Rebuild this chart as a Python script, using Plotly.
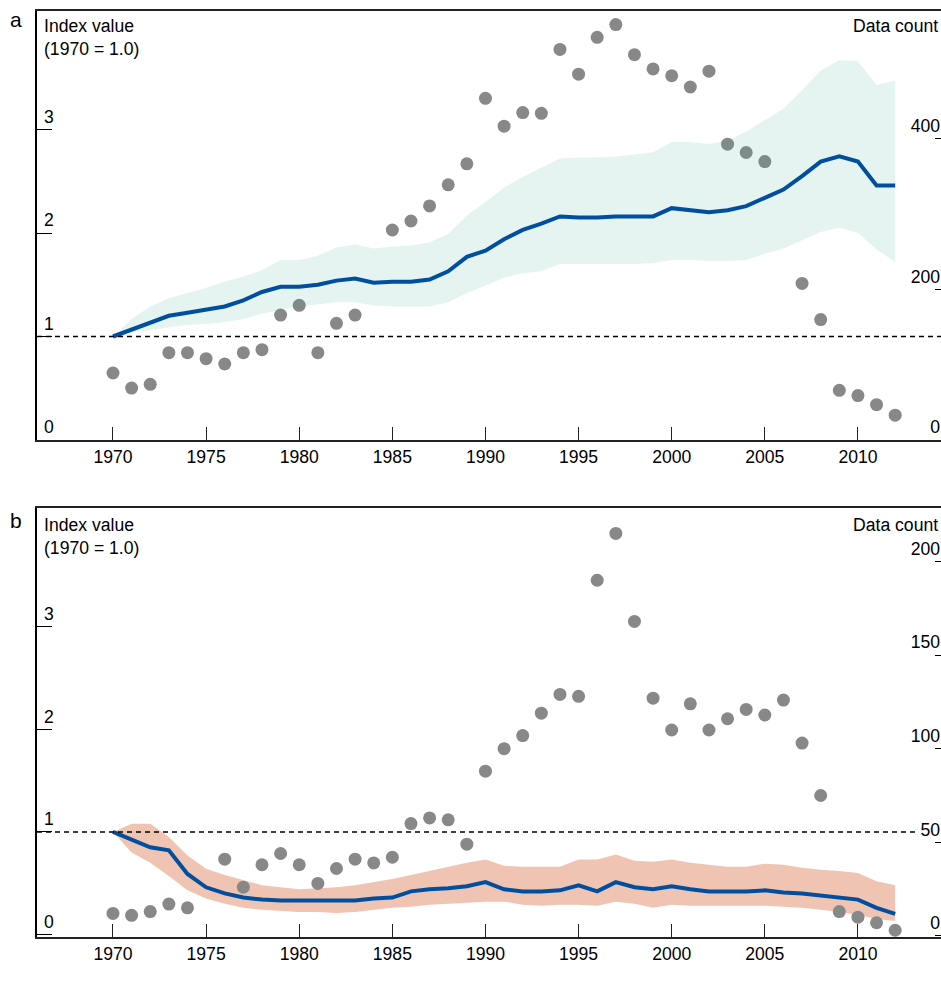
import plotly.graph_objects as go

# ---- data -------------------------------------------------------------
years = list(range(1970, 2013))

# panel a: index with uncertainty band
a_index = [1.00, 1.07, 1.14, 1.20, 1.23, 1.26, 1.29, 1.35, 1.43, 1.48, 1.48, 1.50, 1.54, 1.56,
           1.52, 1.53, 1.53, 1.55, 1.63, 1.77, 1.83, 1.94, 2.03, 2.09, 2.16, 2.15, 2.15, 2.16,
           2.16, 2.16, 2.24, 2.22, 2.20, 2.22, 2.26, 2.34, 2.42, 2.55, 2.69, 2.74, 2.69, 2.46, 2.46]
a_upper = [1.00, 1.17, 1.29, 1.37, 1.42, 1.47, 1.53, 1.58, 1.64, 1.74, 1.74, 1.78, 1.86, 1.89,
           1.85, 1.87, 1.88, 1.91, 1.99, 2.17, 2.30, 2.44, 2.54, 2.63, 2.72, 2.73, 2.73, 2.74,
           2.76, 2.78, 2.88, 2.88, 2.86, 2.89, 2.98, 3.09, 3.20, 3.38, 3.57, 3.67, 3.66, 3.43, 3.47]
a_lower = [1.00, 1.04, 1.06, 1.09, 1.11, 1.12, 1.14, 1.17, 1.22, 1.26, 1.29, 1.31, 1.33, 1.33,
           1.30, 1.29, 1.29, 1.29, 1.33, 1.42, 1.49, 1.57, 1.61, 1.63, 1.70, 1.70, 1.70, 1.70,
           1.70, 1.71, 1.74, 1.74, 1.73, 1.73, 1.74, 1.80, 1.85, 1.93, 2.01, 2.05, 2.00, 1.84, 1.72]

# panel a: data count per year
a_count_years = [1970, 1971, 1972, 1973, 1974, 1975, 1976, 1977, 1978, 1979, 1980, 1981, 1982, 1983,
                 1985, 1986, 1987, 1988, 1989, 1990, 1991, 1992, 1993, 1994, 1995, 1996, 1997, 1998,
                 1999, 2000, 2001, 2002, 2003, 2004, 2005, 2007, 2008, 2009, 2010, 2011, 2012]
a_counts = [89, 69, 74, 116, 116, 108, 101, 116, 120, 166, 179, 116, 155, 166,
            279, 291, 311, 339, 367, 454, 417, 435, 434, 519, 486, 535, 552, 512,
            493, 484, 469, 490, 393, 382, 370, 208, 160, 66, 59, 47, 33]

# panel b: index with uncertainty band
b_index = [1.00, 0.93, 0.85, 0.82, 0.59, 0.46, 0.40, 0.36, 0.34, 0.33, 0.33, 0.33, 0.33, 0.33,
           0.35, 0.36, 0.42, 0.44, 0.45, 0.47, 0.51, 0.44, 0.42, 0.42, 0.43, 0.48, 0.42, 0.51,
           0.46, 0.44, 0.47, 0.44, 0.42, 0.42, 0.42, 0.43, 0.41, 0.40, 0.38, 0.36, 0.34, 0.26, 0.20]
b_upper = [1.00, 1.08, 1.08, 0.95, 0.77, 0.64, 0.58, 0.53, 0.48, 0.46, 0.44, 0.45, 0.46, 0.48,
           0.51, 0.54, 0.58, 0.62, 0.66, 0.70, 0.73, 0.67, 0.66, 0.66, 0.66, 0.73, 0.73, 0.78,
           0.72, 0.71, 0.73, 0.70, 0.68, 0.66, 0.66, 0.69, 0.68, 0.65, 0.63, 0.62, 0.60, 0.52, 0.48]
b_lower = [1.00, 0.80, 0.70, 0.57, 0.43, 0.35, 0.30, 0.26, 0.24, 0.23, 0.22, 0.22, 0.21, 0.22,
           0.24, 0.26, 0.27, 0.29, 0.30, 0.31, 0.32, 0.32, 0.29, 0.28, 0.29, 0.29, 0.28, 0.32,
           0.30, 0.26, 0.29, 0.28, 0.28, 0.28, 0.28, 0.28, 0.27, 0.26, 0.24, 0.22, 0.19, 0.15, 0.13]

# panel b: data count per year
b_count_years = [1970, 1971, 1972, 1973, 1974, 1976, 1977, 1978, 1979, 1980, 1981, 1982, 1983, 1984,
                 1985, 1986, 1987, 1988, 1989, 1990, 1991, 1992, 1993, 1994, 1995, 1996, 1997, 1998,
                 1999, 2000, 2001, 2002, 2003, 2004, 2005, 2006, 2007, 2008, 2009, 2010, 2011, 2012]
b_counts = [12, 11, 13, 17, 15, 41, 26, 38, 44, 38, 28, 36, 41, 39,
            42, 60, 63, 62, 49, 88, 100, 107, 119, 129, 128, 190, 215, 168,
            127, 110, 124, 110, 116, 121, 118, 126, 103, 75, 13, 10, 7, 3]

x_ticks = [1970, 1975, 1980, 1985, 1990, 1995, 2000, 2005, 2010]
index_ticks = [0, 1, 2, 3]
a_count_ticks = [0, 200, 400]
b_count_ticks = [0, 50, 100, 150, 200]

# ---- styling ----------------------------------------------------------
FONT = "Liberation Sans, Arial, Helvetica, sans-serif"
FS = 17.6
BLUE = "#004f9e"
GREY = "#888888"
TEAL_BAND = "rgba(64,170,150,0.13)"
SALMON_BAND = "#efc4b3"

W, H = 941, 998
ML, MR, MT, MB = 37, 0, 11, 61
PW, PH = W - ML - MR, H - MT - MB


def px(x):
    return (x - ML) / PW


def py(y):
    return (H - MB - y) / PH


TOP_DOMAIN = [py(440), py(11)]
BOT_DOMAIN = [py(937), py(508)]

fig = go.Figure()

# panel a: counts on the base axis, band and index line on the overlay
fig.add_trace(go.Scatter(x=a_count_years, y=a_counts, mode="markers", xaxis="x", yaxis="y",
                         marker=dict(size=13, color=GREY), hoverinfo="x+y", showlegend=False))
fig.add_trace(go.Scatter(x=years, y=a_lower, mode="lines", xaxis="x", yaxis="y3",
                         line=dict(width=0, color=TEAL_BAND), showlegend=False, hoverinfo="skip"))
fig.add_trace(go.Scatter(x=years, y=a_upper, mode="lines", xaxis="x", yaxis="y3",
                         fill="tonexty", fillcolor=TEAL_BAND,
                         line=dict(width=0, color=TEAL_BAND), showlegend=False, hoverinfo="skip"))
fig.add_trace(go.Scatter(x=years, y=a_index, mode="lines", xaxis="x", yaxis="y3",
                         line=dict(width=4, color=BLUE), showlegend=False))

# panel b: band and index line on the base axis, counts on the overlay
fig.add_trace(go.Scatter(x=years, y=b_lower, mode="lines", xaxis="x2", yaxis="y2",
                         line=dict(width=0, color=SALMON_BAND), showlegend=False, hoverinfo="skip"))
fig.add_trace(go.Scatter(x=years, y=b_upper, mode="lines", xaxis="x2", yaxis="y2",
                         fill="tonexty", fillcolor=SALMON_BAND,
                         line=dict(width=0, color=SALMON_BAND), showlegend=False, hoverinfo="skip"))
fig.add_trace(go.Scatter(x=years, y=b_index, mode="lines", xaxis="x2", yaxis="y2",
                         line=dict(width=4, color=BLUE), showlegend=False))
fig.add_trace(go.Scatter(x=b_count_years, y=b_counts, mode="markers", xaxis="x2", yaxis="y4",
                         marker=dict(size=13, color=GREY), hoverinfo="x+y", showlegend=False))

tickfont = dict(family=FONT, size=FS, color="black")
x_common = dict(range=[1965.92, 2014.46], tickvals=x_ticks, ticks="inside", ticklen=13,
                tickwidth=1.2, tickcolor="#222", showline=True, linecolor="#222", linewidth=1.5,
                mirror=True, showgrid=False, zeroline=False, tickfont=tickfont)
index_axis = dict(tickvals=index_ticks, ticks="inside", ticklen=15, tickwidth=1.2,
                  tickcolor="black", showline=True, linecolor="black", linewidth=1.5,
                  showgrid=False, zeroline=False, tickfont=tickfont,
                  ticklabelposition="inside top", ticklabelstandoff=7, side="left")
count_axis = dict(ticks="inside", ticklen=6, tickwidth=1.2, tickcolor="black",
                  showline=False, showgrid=False, zeroline=False, tickfont=tickfont,
                  ticklabelposition="inside top", ticklabelstandoff=-2, side="right")

fig.update_layout(
    width=W, height=H,
    margin=dict(l=ML, r=MR, t=MT, b=MB),
    paper_bgcolor="white", plot_bgcolor="rgba(0,0,0,0)",
    font=dict(family=FONT, size=FS, color="black"),
    xaxis=dict(domain=[0, 1], anchor="y", **x_common),
    xaxis2=dict(domain=[0, 1], anchor="y2", **x_common),
    yaxis=dict(domain=TOP_DOMAIN, anchor="x", range=[0, 570], tickvals=a_count_ticks, **count_axis),
    yaxis3=dict(overlaying="y", anchor="x", range=[0, 4.145], **index_axis),
    yaxis2=dict(domain=BOT_DOMAIN, anchor="x2", range=[-0.025, 4.16], **index_axis),
    yaxis4=dict(overlaying="y2", anchor="x2", range=[-0.6, 228.6], tickvals=b_count_ticks,
                **count_axis),
    showlegend=False,
)

# baseline at index = 1
fig.add_shape(type="line", xref="x domain", yref="y3", x0=0, x1=1, y0=1, y1=1,
              line=dict(color="black", width=1.5, dash="5px,4px"))
fig.add_shape(type="line", xref="x2 domain", yref="y2", x0=0, x1=0.973, y0=1, y1=1,
              line=dict(color="black", width=1.5, dash="5px,4px"))

# panel letters and axis captions
for text, x, y in (("a", 16, 19), ("b", 16, 520)):
    fig.add_annotation(text=text, x=px(x), y=py(y), xref="paper", yref="paper",
                       xanchor="center", yanchor="middle", showarrow=False,
                       font=dict(family=FONT, size=21, color="black"))

for top in (26, 525):
    fig.add_annotation(text="Index value<br>(1970 = 1.0)", x=px(42), y=py(top + 11),
                       xref="paper", yref="paper", xanchor="left", yanchor="middle",
                       align="left", showarrow=False,
                       font=dict(family=FONT, size=FS, color="black"))
    fig.add_annotation(text="Data count", x=px(940), y=py(top), xref="paper", yref="paper",
                       xanchor="right", yanchor="middle", showarrow=False,
                       font=dict(family=FONT, size=FS, color="black"))

fig.write_html("out.html")
